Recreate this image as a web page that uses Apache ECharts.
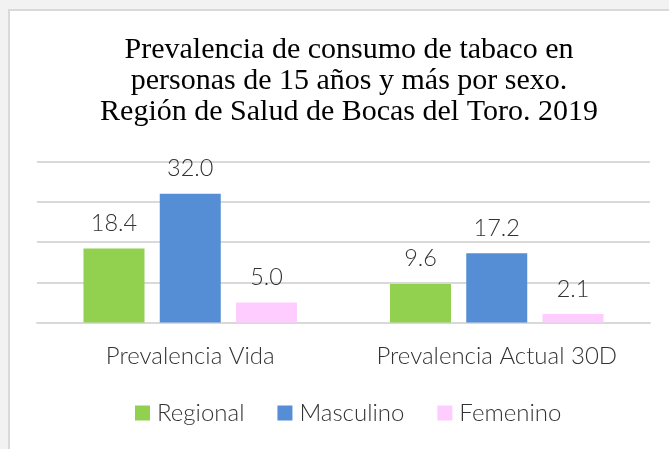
<!DOCTYPE html>
<html><head><meta charset="utf-8">
<script src="https://cdn.jsdelivr.net/npm/echarts@6/dist/echarts.min.js"></script>
<style>html,body{margin:0;padding:0;background:#f2f2f2}#c{width:669px;height:449px}</style>
</head><body><div id="c"></div>
<script>
const categories = ['Prevalencia Vida', 'Prevalencia Actual 30D'];
const regional = [18.4, 9.6];
const masculino = [32.0, 17.2];
const femenino = [5.0, 2.1];
const seriesNames = ['Regional', 'Masculino', 'Femenino'];
const titleText = 'Prevalencia de consumo de tabaco en\npersonas de 15 años y más por sexo.\nRegión de Salud de Bocas del Toro. 2019';

const sans = 'Lato, "Open Sans", sans-serif';
const txtColor = '#333333';
const labelStyle = {show: true, position: 'top', distance: 13, color: txtColor, fontSize: 23.5, fontFamily: sans, fontWeight: 300, formatter: p => p.value.toFixed(1)};
const chart = echarts.init(document.getElementById('c'));
chart.setOption({
  animation: false,
  backgroundColor: '#f2f2f2',
  graphic: [{type: 'rect', z: -10, shape: {x: 9, y: 10, width: 680, height: 460}, style: {fill: '#ffffff', stroke: '#d9d9d9', lineWidth: 2}}],
  title: {text: titleText, left: 344, textAlign: 'center', top: 30, textStyle: {fontFamily: '"Liberation Serif", serif', fontWeight: 'normal', fontSize: 30, lineHeight: 31, color: '#000000'}},
  legend: {top: 396, left: 130, itemWidth: 15, itemHeight: 15, itemGap: 33, icon: 'rect', textStyle: {fontSize: 24, fontFamily: sans, fontWeight: 300, color: txtColor, padding: [0,0,0,2]}, data: seriesNames},
  grid: {left: 37, right: 19, top: 161.7, bottom: 126.5, containLabel: false},
  xAxis: {type: 'category', data: categories, axisTick: {show: false}, axisLine: {lineStyle: {color: '#d9d9d9', width: 2}}, axisLabel: {interval: 0, margin: 22, fontSize: 24, fontFamily: sans, fontWeight: 300, color: txtColor}},
  yAxis: {type: 'value', min: 0, max: 40, interval: 10, axisLabel: {show: false}, axisLine: {show: false}, axisTick: {show: false}, splitLine: {lineStyle: {color: '#d9d9d9', width: 2}}},
  series: [
    {name: seriesNames[0], type: 'bar', data: regional, barWidth: 61, barGap: '25%', itemStyle: {color: '#92d050'}, label: labelStyle},
    {name: seriesNames[1], type: 'bar', data: masculino, barWidth: 61, barGap: '25%', itemStyle: {color: '#558ed5'}, label: labelStyle},
    {name: seriesNames[2], type: 'bar', data: femenino, barWidth: 61, barGap: '25%', itemStyle: {color: '#ffccff'}, label: labelStyle}
  ]
});
</script></body></html>
